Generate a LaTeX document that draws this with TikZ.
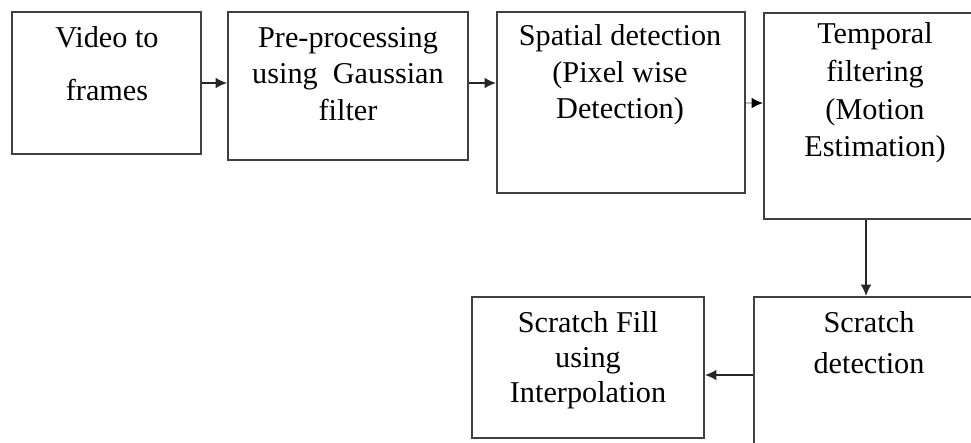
\documentclass[tikz,border=0pt]{standalone}
\usepackage{fontspec}
\setmainfont{Liberation Serif}
\usetikzlibrary{arrows.meta}
\begin{document}
\begin{tikzpicture}[x=0.01cm,y=-0.01cm,
  box/.style={draw=black!75,line width=0.55pt,minimum height=#1,inner sep=0pt,anchor=center},
  lbl/.style={align=center,inner sep=0pt,font=\fontsize{8.6}{#1}\selectfont},
  conn/.style={draw=black!85,line width=0.4pt,-{Latex[length=3.2pt,width=3pt]}}]
\useasboundingbox (0,0) rectangle (971,442);
\clip (0,0) rectangle (971,442);
\fill[white] (0,0) rectangle (971,442);
% boxes
\node[box=1.42cm,minimum width=1.89cm] (b1) at (106.5,83) {};
\node[box=1.48cm,minimum width=2.40cm] (b2) at (348,86) {};
\node[box=1.81cm,minimum width=2.48cm] (b3) at (621,102.5) {};
\node[box=2.06cm,minimum width=2.22cm] (b4) at (875,116) {};
\node[box=1.70cm,minimum width=2.30cm] (b5) at (869,382) {};
\node[box=1.41cm,minimum width=2.32cm] (b6) at (588,367.5) {};
% texts
\node[lbl=15.1pt] (t1) at (107,64) {Video to\\frames};
\node[lbl=10.4pt] (t2) at (348,74) {Pre-processing\\using~ Gaussian\\filter};
\node[lbl=10.4pt] (t3) at (620,75) {Spatial detection\\(Pixel wise\\Detection)};
\node[lbl=10.7pt] (t4) at (875,93) {Temporal\\filtering\\(Motion\\Estimation)};
\node[lbl=11.7pt] (t5) at (869,343) {Scratch\\detection};
\node[lbl=9.9pt] (t6) at (588,360) {Scratch Fill\\using\\Interpolation};
% connectors
\coordinate (c1) at (0,83);
\coordinate (c3) at (0,103);
\coordinate (c4) at (866,0);
\coordinate (c5) at (0,375);
\draw[conn] (b1.east |- c1) -- (b2.west |- c1);
\draw[conn] (b2.east |- c1) -- (b3.west |- c1);
\draw[conn,draw=black!25,-{Latex[length=3.2pt,width=3pt,black]}] (b3.east |- c3) -- (b4.west |- c3);
\draw[conn] (b4.south -| c4) -- (b5.north -| c4);
\draw[conn] (b5.west |- c5) -- (b6.east |- c5);
\end{tikzpicture}
\end{document}
